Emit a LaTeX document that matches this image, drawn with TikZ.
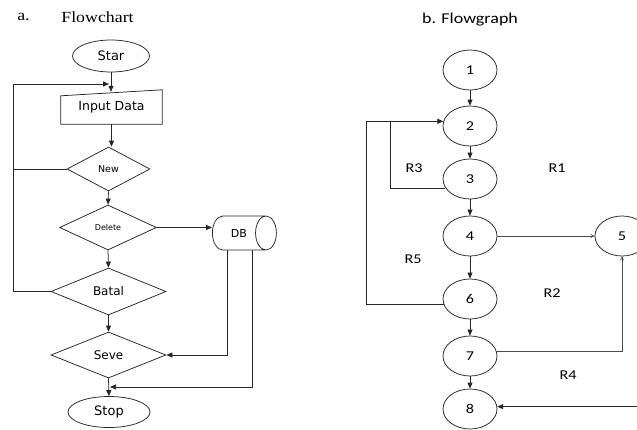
\documentclass[tikz,border=0pt]{standalone}
\usepackage{fontspec}
\newfontfamily\flowfont{DejaVu Sans}
\newfontfamily\graphfont[FakeStretch=1.2]{Carlito}
\newfontfamily\titlefont[FakeStretch=1.15]{Liberation Serif}
\usetikzlibrary{shapes.geometric,arrows.meta}

\tikzset{
  line/.style={draw=black!85, line width=0.75pt},
  arr/.style={line, -{Triangle[length=6pt,width=5pt]}},
  thinarr/.style={draw=black!70, line width=0.6pt, -{To[length=4pt,width=4pt]}},
  term/.style={ellipse, line, inner sep=0pt, font=\flowfont\fontsize{13}{15}\selectfont},
  decide/.style={diamond, line, inner sep=0pt, aspect=2, font=\flowfont\fontsize{12}{14}\selectfont},
  vtx/.style={ellipse, line, inner sep=0pt, minimum width=54pt, minimum height=40pt,
              font=\graphfont\fontsize{13.5}{15}\selectfont},
  region/.style={font=\graphfont\fontsize{13.5}{15}\selectfont},
}

\begin{document}
\begin{tikzpicture}[x=1pt,y=-1pt]
\useasboundingbox (0,0) rectangle (637,429);
\clip (0,0) rectangle (637,429);

% ---------- a. Flowchart ----------
\node[font=\titlefont\fontsize{15.5}{18}\selectfont] (ta) at (23.5,17) {a.};
\node[font=\titlefont\fontsize{15.5}{18}\selectfont] (tf) at (97.5,17) {Flowchart};

\node[term, minimum width=77pt, minimum height=32pt] (star) at (111,56) {Star};

% manual input box: the node holds the text, its outline is drawn below
\node[inner sep=0pt, minimum width=101pt, minimum height=34pt,
      font=\flowfont\fontsize{12.5}{14}\selectfont] (input) at (111.5,107) {Input Data};
\draw[line] (input.south west) -- ([yshift=-6pt]input.north west)
            -- (input.north east) -- (input.south east) -- cycle;

\node[decide, minimum width=83pt, minimum height=44pt,
      font=\flowfont\fontsize{9.5}{11}\selectfont] (new) at (108.5,169) {New};
\node[decide, minimum width=97pt, minimum height=45pt,
      font=\flowfont\fontsize{8}{10}\selectfont] (delete) at (108,227.5) {Delete};
\node[decide, minimum width=115pt, minimum height=47pt] (batal) at (108.5,291.5) {Batal};
\node[decide, minimum width=115pt, minimum height=46pt] (seve) at (108.5,355) {Seve};
\node[term, minimum width=82pt, minimum height=31pt] (stop) at (109,412) {Stop};

\node[cylinder, line, inner sep=0pt, shape aspect=2.6, minimum width=34pt, minimum height=64pt,
      font=\flowfont\fontsize{11}{13}\selectfont] (db) at (239,233) {DB};

\coordinate (ltop) at (13,84);
\coordinate (lbot) at (13,291.5);
\coordinate (loopin) at (109,84);
\coordinate (merge) at (110,387);

\draw[arr] (star.south) -- ([yshift=-2pt]star.south |- input.north);
\draw[arr] (input.south) -- (input.south |- new.north);
\draw[arr] (new.south) -- (delete.north);
\draw[arr] (delete.south) -- (batal.north);
\draw[arr] (batal.south) -- (seve.north);
\draw[arr] (seve.south) -- (stop.north);
\draw[arr] (delete.east) -- (delete.east -| db.west);
\draw[arr] (batal.west) -- (lbot) -- (ltop) -- (loopin);
\draw[line] (new.west) -- (new.west -| ltop);
\draw[arr] ([xshift=-12pt]db.south) |- (seve.east);
\draw[arr] ([xshift=13pt]db.south) |- (merge);

% ---------- b. Flowgraph ----------
\node[font=\graphfont\fontsize{15}{17}\selectfont] (tb) at (470,20) {b. Flowgraph};

\node[vtx] (n1) at (470,70) {1};
\node[vtx] (n2) at (470,126) {2};
\node[vtx] (n3) at (470,179) {3};
\node[vtx] (n4) at (470,236) {4};
\node[vtx] (n5) at (622,236) {5};
\node[vtx] (n6) at (470,299) {6};
\node[vtx] (n7) at (470,356) {7};
\node[vtx] (n8) at (470,409) {8};

\draw[arr] (n1) -- (n2);
\draw[arr] (n2) -- (n3);
\draw[arr] (n3) -- (n4);
\draw[arr] (n4) -- (n6);
\draw[arr] (n6) -- (n7);
\draw[arr] (n7) -- (n8);

\path (n2.170) ++(-77,0) coordinate (l6);
\path (n2.170) ++(-53,0) coordinate (l3);
\draw[arr] (n6.192) -| (l6) -- (n2.170);
\draw[line] (n3.200) -| (l3);

\draw[thinarr] (n4) -- (n5);
\draw[thinarr] (n7.10) -| (n5.south);
\coordinate (edge) at (637,0);
\draw[arr] (edge |- n8.5) -- (n8.5);

\node[region] (r3) at (414,168) {R3};
\node[region] (r1) at (557,168) {R1};
\node[region] (r5) at (413,259) {R5};
\node[region] (r2) at (552,293) {R2};
\node[region] (r4) at (568,375) {R4};
\end{tikzpicture}
\end{document}
